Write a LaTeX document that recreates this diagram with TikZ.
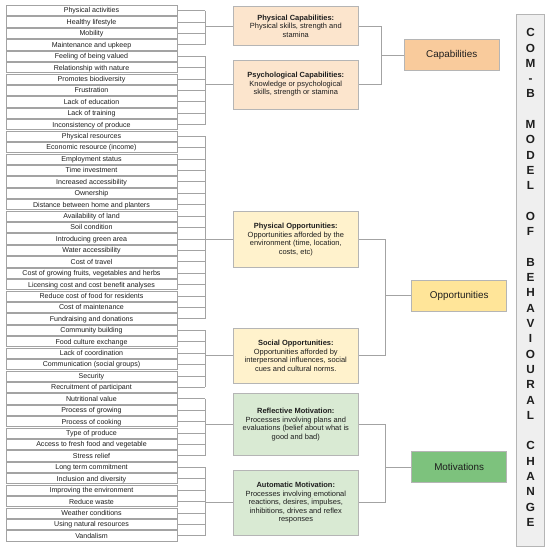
\documentclass[tikz,border=0pt]{standalone}
\usepackage{fontspec}
\setmainfont{Liberation Sans}
\definecolor{linegray}{HTML}{A3A3A3}
\definecolor{boxgray}{HTML}{B5B5B5}
\definecolor{txt}{HTML}{1E1E1E}
\definecolor{capsub}{HTML}{FCE5CD}
\definecolor{capmain}{HTML}{F9CB9C}
\definecolor{oppsub}{HTML}{FFF2CC}
\definecolor{oppmain}{HTML}{FFE599}
\definecolor{motsub}{HTML}{D9EAD3}
\definecolor{motmain}{HTML}{7DC27D}
\definecolor{titlefill}{HTML}{EFEFEF}
\begin{document}
\begin{tikzpicture}[x=1bp,y=-1bp,
  rowbox/.style={draw=linegray, fill=white, line width=0.7bp, minimum width=171bp, minimum height=10.2bp, inner sep=0pt, text height=5.1bp, text depth=0.2bp, font=\fontsize{7.1}{8}\selectfont, text=txt},
  subbox/.style={draw=boxgray, line width=0.8bp, minimum width=125bp, inner sep=0pt, align=center, font=\fontsize{7.5}{8.6}\selectfont, text=txt},
  mainbox/.style={draw=boxgray, line width=0.8bp, minimum width=95bp, minimum height=31.5bp, inner sep=0pt, font=\fontsize{9.9}{12}\selectfont, text=txt},
  conn/.style={draw=linegray, line width=0.8bp}]
\useasboundingbox (0,0) rectangle (550,553);
\fill[white] (0,0) rectangle (550,553);
\foreach \t [count=\i] in {Physical activities, Healthy lifestyle, Mobility, Maintenance and upkeep, Feeling of being valued, Relationship with nature, Promotes biodiversity, Frustration, Lack of education, Lack of training, Inconsistency of produce, Physical resources, Economic resource (income), Employment status, Time investment, Increased accessibility, Ownership, Distance between home and planters, Availability of land, Soil condition, Introducing green area, Water accessibility, Cost of travel, {Cost of growing fruits, vegetables and herbs}, Licensing cost and cost benefit analyses, Reduce cost of food for residents, Cost of maintenance, Fundraising and donations, Community building, Food culture exchange, Lack of coordination, Communication (social groups), Security, Recruitment of participant, Nutritional value, Process of growing, Process of cooking, Type of produce, Access to fresh food and vegetable, Stress relief, Long term commitment, Inclusion and diversity, Improving the environment, Reduce waste, Weather conditions, Using natural resources, Vandalism}
{ \node[rowbox] (r\i) at (91.5, {4.8+11.42*(\i-0.5)}) {\t}; }

% sub boxes
\node[subbox, fill=capsub, minimum height=39bp] (pcap) at (295.8,26.2) {\textbf{Physical Capabilities:}\\Physical skills, strength and\\stamina};
\node[subbox, fill=capsub, minimum height=49bp] (psy) at (295.8,84.5) {\textbf{Psychological Capabilities:}\\Knowledge or psychological\\skills, strength or stamina};
\node[subbox, fill=oppsub, minimum height=55.6bp] (popp) at (295.8,239.5) {\textbf{Physical Opportunities:}\\Opportunities afforded by the\\environment (time, location,\\costs, etc)};
\node[subbox, fill=oppsub, minimum height=55bp] (sopp) at (295.8,355.8) {\textbf{Social Opportunities:}\\Opportunities afforded by\\interpersonal influences, social\\cues and cultural norms.};
\node[subbox, fill=motsub, minimum height=62.4bp] (refl) at (295.8,424.5) {\textbf{Reflective Motivation:}\\Processes involving plans and\\evaluations (belief about what is\\good and bad)};
\node[subbox, fill=motsub, minimum height=64.3bp] (auto) at (295.8,502.8) {\textbf{Automatic Motivation:}\\Processes involving emotional\\reactions, desires, impulses,\\inhibitions, drives and reflex\\responses};

% main boxes
\node[mainbox, fill=capmain, minimum width=95.3bp, minimum height=31.4bp] (cap) at (451.7,55) {Capabilities};
\node[mainbox, fill=oppmain, minimum height=31.7bp] (opp) at (459.2,295.8) {Opportunities};
\node[mainbox, fill=motmain, minimum height=31bp] (mot) at (459.2,467.2) {Motivations};

% title
\node[draw=boxgray, fill=titlefill, line width=0.8bp, minimum width=27.6bp, minimum height=532.7bp, inner sep=0pt] (title) at (530.5,280.35) {};
\node[align=center, inner sep=0pt, font=\fontsize{11.8}{15.36}\selectfont\bfseries, text=txt] (ttext) at (530.5,277.5) {C\\O\\M\\-\\B\\\mbox{}\\M\\O\\D\\E\\L\\\mbox{}\\O\\F\\\mbox{}\\B\\E\\H\\A\\V\\I\\O\\U\\R\\A\\L\\\mbox{}\\C\\H\\A\\N\\G\\E};

% left buses
\coordinate (busL) at (205,0);
\foreach \i in {1,...,47} { \draw[conn] (r\i.east) -- (r\i.east -| busL); }
\draw[conn] (r1.east -| busL) -- (r4.east -| busL);
\draw[conn] (r5.east -| busL) -- (r11.east -| busL);
\draw[conn] (r12.east -| busL) -- (r28.east -| busL);
\draw[conn] (r29.east -| busL) -- (r34.east -| busL);
\draw[conn] (r35.east -| busL) -- (r40.east -| busL);
\draw[conn] (r41.east -| busL) -- (r47.east -| busL);
\draw[conn] (pcap.west) -- (pcap.west -| busL);
\draw[conn] (psy.west) -- (psy.west -| busL);
\draw[conn] (popp.west) -- (popp.west -| busL);
\draw[conn] (sopp.west) -- (sopp.west -| busL);
\draw[conn] (refl.west) -- (refl.west -| busL);
\draw[conn] (auto.west) -- (auto.west -| busL);

% right buses
\coordinate (busA) at (381.7,0);
\coordinate (busB) at (385,0);
\draw[conn] (pcap.east) -- (pcap.east -| busA) -- (psy.east -| busA) -- (psy.east);
\draw[conn] (cap.west) -- (cap.west -| busA);
\draw[conn] (popp.east) -- (popp.east -| busB) -- (sopp.east -| busB) -- (sopp.east);
\draw[conn] (opp.west) -- (opp.west -| busB);
\draw[conn] (refl.east) -- (refl.east -| busB) -- (auto.east -| busB) -- (auto.east);
\draw[conn] (mot.west) -- (mot.west -| busB);
\end{tikzpicture}
\end{document}
